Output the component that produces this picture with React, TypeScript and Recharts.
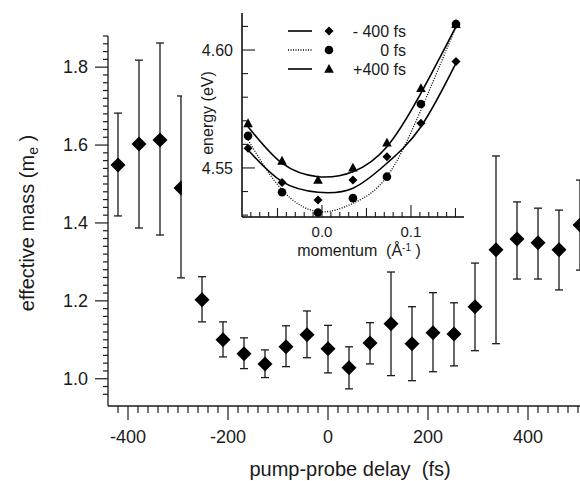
import {
  ScatterChart,
  ComposedChart,
  Scatter,
  Line,
  XAxis,
  YAxis,
  ErrorBar,
  Legend,
} from 'recharts';

// main panel: effective mass vs pump-probe delay
const delays = [-420, -378, -336, -294, -252, -210, -168, -126, -84, -42, 0, 42, 84, 126, 168, 210, 252, 294, 336, 378, 420, 462, 504];
const mass = [1.549, 1.603, 1.613, 1.49, 1.203, 1.1, 1.064, 1.038, 1.082, 1.113, 1.077, 1.028, 1.092, 1.141, 1.09, 1.118, 1.115, 1.185, 1.331, 1.359, 1.349, 1.331, 1.395];
const massLow = [1.418, 1.387, 1.369, 1.259, 1.146, 1.056, 1.026, 1.003, 1.031, 1.054, 1.015, 0.974, 1.038, 1.008, 0.995, 1.018, 1.033, 1.072, 1.09, 1.256, 1.256, 1.228, 1.279];
const massHigh = [1.682, 1.818, 1.862, 1.726, 1.262, 1.146, 1.105, 1.074, 1.136, 1.174, 1.137, 1.082, 1.144, 1.274, 1.185, 1.221, 1.195, 1.297, 1.572, 1.454, 1.438, 1.433, 1.51];

const delayMajor = [-400, -200, 0, 200, 400];
const delayTicks = Array.from({ length: 47 }, (_, i) => -420 + i * 20);
const massMajor = [1.0, 1.2, 1.4, 1.6, 1.8];
const massTicks = Array.from({ length: 47 }, (_, i) => Math.round((0.96 + i * 0.02) * 100) / 100);

// inset: dispersion at three delays
const momentum = [-0.0831, -0.0449, -0.0045, 0.0348, 0.073, 0.1112, 0.1506];
const eMinus400 = [4.5583, 4.5438, 4.5364, 4.5449, 4.5548, 4.5689, 4.5951];
const eZero = [4.5636, 4.5397, 4.5311, 4.5372, 4.5463, 4.5771, 4.611];
const ePlus400 = [4.5689, 4.553, 4.5449, 4.5501, 4.5607, 4.5838, 4.611];
const fitMinus400 = [4.5576, 4.5442, 4.5397, 4.5414, 4.552, 4.5675, 4.5944];
const fitZero = [4.5619, 4.5407, 4.5315, 4.535, 4.5463, 4.5746, 4.6099];
const fitPlus400 = [4.5675, 4.552, 4.5463, 4.5484, 4.559, 4.5817, 4.6099];

const kMajor = [0, 0.1];
const kMedium = [-0.05, 0.05, 0.15];
const kTicks = Array.from({ length: 24 }, (_, i) => Math.round((-0.08 + i * 0.01) * 100) / 100);
const energyMajor = [4.55, 4.6];
const energyTicks = Array.from({ length: 9 }, (_, i) => Math.round((4.53 + i * 0.01) * 100) / 100);

const legendItems = [
  { label: '- 400 fs', dotted: false, shape: 'diamond' },
  { label: '0 fs', dotted: true, shape: 'circle' },
  { label: '+400 fs', dotted: false, shape: 'triangle' },
];

const FONT = '"Liberation Sans", Arial, Helvetica, sans-serif';
const INK = '#1a1a1a';

const mainData = delays.map((d, i) => ({
  delay: d,
  mass: mass[i],
  err: [mass[i] - massLow[i], massHigh[i] - mass[i]],
}));

const toPoints = (ys: number[]) => momentum.map((k, i) => ({ k, e: ys[i] }));

const has = (arr: number[], v: number) => arr.some((a) => Math.abs(a - v) < 1e-6);

function MainXTick({ x, y, payload }: any) {
  const v = payload.value;
  const major = has(delayMajor, v);
  return (
    <g>
      <line x1={x} y1={y} x2={x} y2={y + (major ? 14 : 7)} stroke={INK} strokeWidth={1.2} />
      {major && (
        <text x={x} y={y + 37} textAnchor="middle" fontSize={18} fontFamily={FONT} fill={INK}>
          {v}
        </text>
      )}
    </g>
  );
}

function MainYTick({ x, y, payload }: any) {
  const v = payload.value;
  const major = has(massMajor, v);
  return (
    <g>
      <line x1={x - (major ? 13 : 5)} y1={y} x2={x} y2={y} stroke={INK} strokeWidth={1.2} />
      {major && (
        <text x={x - 20} y={y + 6} textAnchor="end" fontSize={18} fontFamily={FONT} fill={INK}>
          {v.toFixed(1)}
        </text>
      )}
    </g>
  );
}

function InsetXTick({ x, y, payload }: any) {
  const v = payload.value;
  const major = has(kMajor, v);
  const medium = has(kMedium, v);
  const len = major ? 12 : medium ? 9 : 5;
  return (
    <g>
      <line x1={x} y1={y} x2={x} y2={y - len} stroke={INK} strokeWidth={1.1} />
      {major && (
        <text x={x} y={y + 20} textAnchor="middle" fontSize={15} fontFamily={FONT} fill={INK}>
          {v.toFixed(1)}
        </text>
      )}
    </g>
  );
}

function InsetYTick({ x, y, payload }: any) {
  const v = payload.value;
  const major = has(energyMajor, v);
  return (
    <g>
      <line x1={x} y1={y} x2={x + (major ? 13 : 6)} y2={y} stroke={INK} strokeWidth={1.1} />
      {major && (
        <text x={x - 9} y={y + 6} textAnchor="end" fontSize={16} fontFamily={FONT} fill={INK}>
          {v.toFixed(2)}
        </text>
      )}
    </g>
  );
}

const bigDiamond = ({ cx, cy }: any) => (
  <polygon points={`${cx},${cy - 7.5} ${cx + 7.5},${cy} ${cx},${cy + 7.5} ${cx - 7.5},${cy}`} fill="#000" />
);

const smallDiamond = ({ cx, cy }: any) => (
  <polygon points={`${cx},${cy - 4.5} ${cx + 4.5},${cy} ${cx},${cy + 4.5} ${cx - 4.5},${cy}`} fill="#000" />
);

const dot = ({ cx, cy }: any) => <circle cx={cx} cy={cy} r={4.3} fill="#000" />;

const triangle = ({ cx, cy }: any) => (
  <polygon points={`${cx},${cy - 5} ${cx + 4.8},${cy + 3.8} ${cx - 4.8},${cy + 3.8}`} fill="#000" />
);

function InsetLegend() {
  return (
    <svg width={122} height={62} style={{ display: 'block' }}>
      {legendItems.map((item, i) => {
        const cy = 13 + i * 19;
        const shape =
          item.shape === 'diamond'
            ? smallDiamond({ cx: 41, cy })
            : item.shape === 'circle'
            ? dot({ cx: 41, cy })
            : triangle({ cx: 41, cy });
        return (
          <g key={item.label}>
            <line
              x1={0}
              y1={cy}
              x2={24}
              y2={cy}
              stroke="#000"
              strokeWidth={item.dotted ? 1.3 : 1.6}
              strokeDasharray={item.dotted ? '1 1.5' : undefined}
            />
            {shape}
            <text x={118} y={cy + 5.5} textAnchor="end" fontSize={16} fontFamily={FONT} fill={INK}>
              {item.label}
            </text>
          </g>
        );
      })}
    </svg>
  );
}

export default function App() {
  return (
    <div style={{ position: 'absolute', left: 0, top: 0, width: 580, height: 481, overflow: 'hidden', background: '#fff' }}>
      <ScatterChart width={600} height={481} margin={{ top: 36, right: 17, bottom: 0, left: 0 }}>
        <XAxis
          type="number"
          dataKey="delay"
          domain={[-440, 510]}
          allowDataOverflow
          ticks={delayTicks}
          interval={0}
          tick={<MainXTick />}
          tickLine={false}
          tickSize={0}
          tickMargin={0}
          axisLine={{ stroke: INK, strokeWidth: 1.3 }}
          height={75}
          label={() => (
            <text x={350} y={476} textAnchor="middle" fontSize={20} fontFamily={FONT} fill={INK} style={{ whiteSpace: 'pre' }}>
              {'pump-probe delay  (fs)'}
            </text>
          )}
        />
        <YAxis
          type="number"
          dataKey="mass"
          domain={[0.93, 1.88]}
          allowDataOverflow
          ticks={massTicks}
          interval={0}
          tick={<MainYTick />}
          tickLine={false}
          tickSize={0}
          tickMargin={0}
          axisLine={{ stroke: INK, strokeWidth: 1.3 }}
          width={108}
          label={() => (
            <text
              x={34}
              y={223}
              transform="rotate(-90 34 223)"
              textAnchor="middle"
              fontSize={20}
              fontFamily={FONT}
              fill={INK}
              style={{ whiteSpace: 'pre' }}
            >
              {'effective mass (m'}
              <tspan fontSize={14} dy={4}>e</tspan>
              <tspan dy={-4}>{' )'}</tspan>
            </text>
          )}
        />
        <Scatter data={mainData} shape={bigDiamond} isAnimationActive={false}>
          <ErrorBar dataKey="err" direction="y" width={4} stroke={INK} strokeWidth={1.3} />
        </Scatter>
      </ScatterChart>

      <div style={{ position: 'absolute', left: 182, top: 13, background: '#fff' }}>
        <ComposedChart width={282} height={254} margin={{ top: 0, right: 0, bottom: 0, left: 0 }}>
          <XAxis
            type="number"
            dataKey="k"
            domain={[-0.0899, 0.1596]}
            allowDataOverflow
            ticks={kTicks}
            interval={0}
            tick={<InsetXTick />}
            tickLine={false}
            tickSize={0}
            tickMargin={0}
            axisLine={{ stroke: '#000', strokeWidth: 1.5 }}
            height={50}
            label={() => (
              <text x={177} y={243} textAnchor="middle" fontSize={16} fontFamily={FONT} fill={INK} style={{ whiteSpace: 'pre' }}>
                {'momentum  (Å'}
                <tspan fontSize={10} dy={-5}>-1</tspan>
                <tspan dy={5}>{' )'}</tspan>
              </text>
            )}
          />
          <XAxis
            xAxisId="top"
            orientation="top"
            type="number"
            domain={[-0.0899, 0.1596]}
            height={0}
            tick={false}
            tickLine={false}
            axisLine={{ stroke: '#000', strokeWidth: 1.5 }}
          />
          <YAxis
            type="number"
            dataKey="e"
            domain={[4.5292, 4.6157]}
            allowDataOverflow
            ticks={energyTicks}
            interval={0}
            tick={<InsetYTick />}
            tickLine={false}
            tickSize={0}
            tickMargin={0}
            axisLine={{ stroke: '#000', strokeWidth: 1.5 }}
            width={60}
            label={() => (
              <text
                x={31}
                y={100}
                transform="rotate(-90 31 100)"
                textAnchor="middle"
                fontSize={16}
                fontFamily={FONT}
                fill={INK}
              >
                energy (eV)
              </text>
            )}
          />
          <YAxis
            yAxisId="right"
            orientation="right"
            type="number"
            domain={[4.5292, 4.6157]}
            width={0}
            tick={false}
            tickLine={false}
            axisLine={{ stroke: '#000', strokeWidth: 1.5 }}
          />
          <Line data={toPoints(fitPlus400)} dataKey="e" type="natural" stroke="#000" strokeWidth={1.6} dot={false} isAnimationActive={false} />
          <Line data={toPoints(fitMinus400)} dataKey="e" type="natural" stroke="#000" strokeWidth={1.6} dot={false} isAnimationActive={false} />
          <Line data={toPoints(fitZero)} dataKey="e" type="natural" stroke="#000" strokeWidth={1.3} strokeDasharray="1 1.5" dot={false} isAnimationActive={false} />
          <Scatter data={toPoints(eMinus400)} shape={smallDiamond} isAnimationActive={false} />
          <Scatter data={toPoints(eZero)} shape={dot} isAnimationActive={false} />
          <Scatter data={toPoints(ePlus400)} shape={triangle} isAnimationActive={false} />
          <Legend
            layout="vertical"
            align="center"
            verticalAlign="middle"
            content={() => <InsetLegend />}
            wrapperStyle={{ left: 106, top: 5, width: 122, height: 62 }}
          />
        </ComposedChart>
      </div>
    </div>
  );
}
